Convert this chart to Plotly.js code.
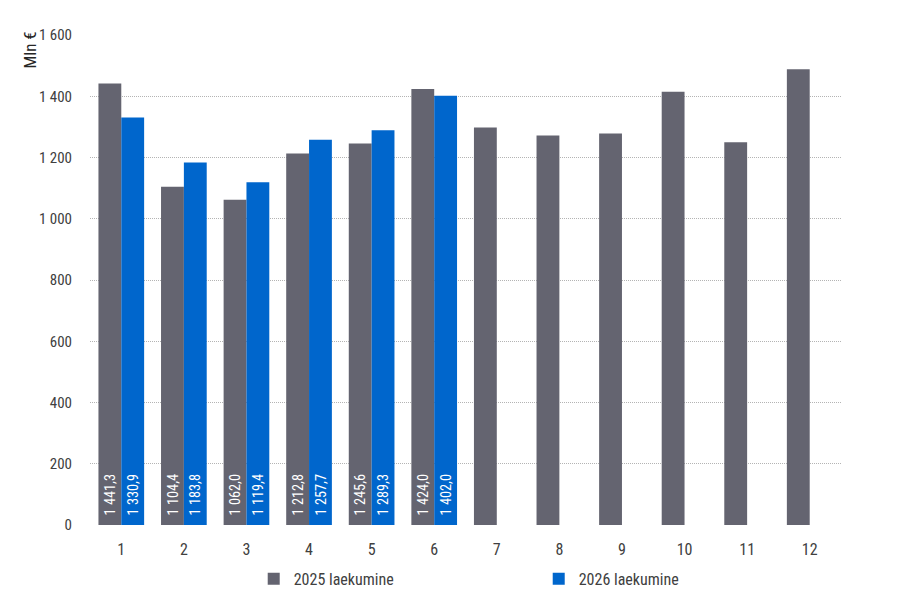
<!DOCTYPE html>
<html>
<head>
<meta charset="utf-8">
<script src="https://cdn.plot.ly/plotly-3.0.1.min.js"></script>
<style>
  html, body { margin: 0; padding: 0; background: #fff; }
  #chart { width: 902px; height: 616px; }
</style>
</head>
<body>
<div id="chart"></div>
<script>
// kuud
var months = ['1', '2', '3', '4', '5', '6', '7', '8', '9', '10', '11', '12'];
// laekumine, mln €
var y2025 = [1441.3, 1104.4, 1062.0, 1212.8, 1245.6, 1424.0, 1298, 1272, 1278, 1415, 1250, 1488];
var y2026 = [1330.9, 1183.8, 1119.4, 1257.7, 1289.3, 1402.0];
var months2026 = months.slice(0, y2026.length);
// ainult esimesed 6 kuud on sildiga
var labelled = 6;

var fontFam = '"Roboto Condensed", "Liberation Sans Narrow", Roboto, sans-serif';
// väike vahe silt ja tulba põhja vahel
var lblTpl = '\u00a0\u00a0%{y:,.1f}';

var trace1 = {
  x: months,
  y: y2025,
  name: '2025 laekumine',
  type: 'bar',
  texttemplate: y2025.map(function (v, i) { return i < labelled ? lblTpl : ''; }),
  textposition: 'inside',
  insidetextanchor: 'start',
  textangle: -90,
  textfont: { color: '#ffffff', size: 17, family: fontFam },
  hoverinfo: 'x+y',
  marker: {
    color: '#646470'
  }
};

var trace2 = {
  x: months2026,
  y: y2026,
  name: '2026 laekumine',
  type: 'bar',
  texttemplate: lblTpl,
  textposition: 'inside',
  insidetextanchor: 'start',
  textangle: -90,
  textfont: { color: '#ffffff', size: 17, family: fontFam },
  hoverinfo: 'x+y',
  marker: {
    color: '#0066cc'
  }
};

var data = [trace1, trace2];

var layout = {
  width: 902,
  height: 616,
  separators: ', ',
  font: { family: fontFam, size: 16, color: '#404040' },
  barmode: 'group',
  bargap: 0.27,
  bargroupgap: 0,
  paper_bgcolor: '#ffffff',
  plot_bgcolor: '#ffffff',
  margin: { l: 90, r: 61, t: 35, b: 91 },
  xaxis: {
    type: 'category',
    showgrid: false,
    showline: false,
    zeroline: false,
    ticks: 'outside',
    ticklen: 10,
    tickcolor: 'rgba(0,0,0,0)',
    tickfont: { size: 16, family: fontFam, color: '#404040' }
  },
  yaxis: {
    range: [0, 1600],
    dtick: 200,
    tickformat: ',d',
    showgrid: true,
    gridcolor: '#b4b4b4',
    griddash: '1px,1px',
    gridwidth: 1,
    zeroline: false,
    showline: false,
    ticks: 'outside',
    ticklen: 14,
    tickcolor: 'rgba(0,0,0,0)',
    tickfont: { size: 15, family: fontFam, color: '#404040' }
  },
  annotations: [{
    text: 'Mln €',
    xref: 'paper',
    yref: 'paper',
    x: -0.08,
    y: 1.012,
    xanchor: 'center',
    yanchor: 'top',
    textangle: -90,
    showarrow: false,
    font: { size: 17, family: fontFam, color: '#262626' }
  }],
  legend: {
    orientation: 'h',
    x: 0.218,
    xanchor: 'left',
    y: -0.075,
    yanchor: 'top',
    entrywidth: 240,
    entrywidthmode: 'pixels',
    font: { size: 16, family: fontFam, color: '#404040' },
    itemclick: 'toggleothers'
  },
  showlegend: true
};

var config = {
  responsive: false,
  displayModeBar: false
};

Plotly.newPlot('chart', data, layout, config);
</script>
</body>
</html>
